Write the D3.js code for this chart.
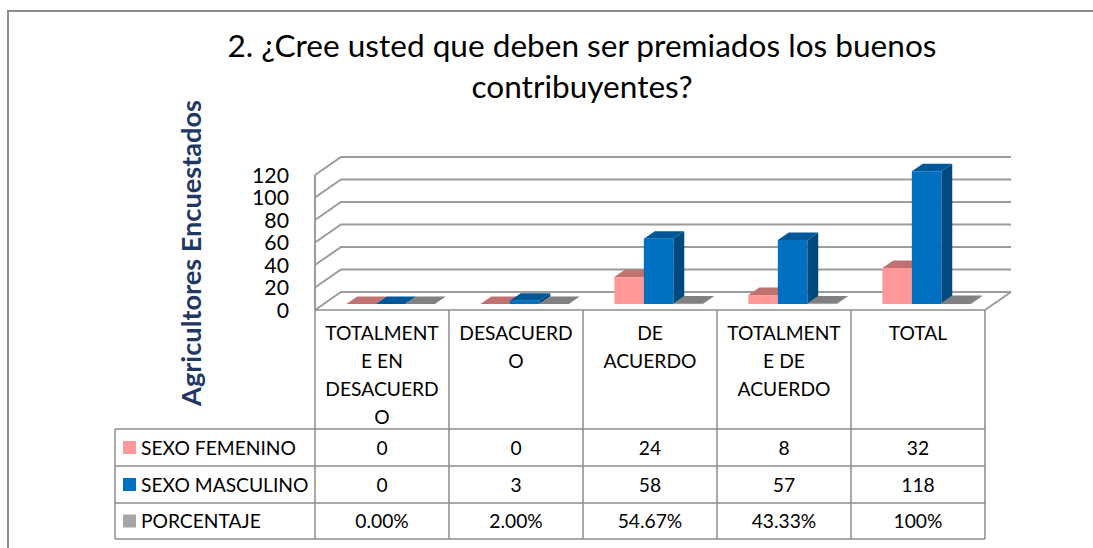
<!DOCTYPE html>
<html>
<head>
<meta charset="utf-8">
<script src="https://cdn.jsdelivr.net/npm/d3@7"></script>
<style>
  body { margin: 0; background: #fff; }
  text { font-family: Lato, "Open Sans", sans-serif; }
</style>
</head>
<body>
<svg id="chart" width="1093" height="548"></svg>
<script>
// datos
var categorias = ["TOTALMENTE EN DESACUERDO", "DESACUERDO", "DE ACUERDO", "TOTALMENTE DE ACUERDO", "TOTAL"];
var categoriaLineas = [["TOTALMENT", "E EN", "DESACUERD", "O"], ["DESACUERD", "O"], ["DE", "ACUERDO"], ["TOTALMENT", "E DE", "ACUERDO"], ["TOTAL"]];
var series = ["SEXO FEMENINO", "SEXO MASCULINO", "PORCENTAJE"];
var femenino = [0, 0, 24, 8, 32];
var masculino = [0, 3, 58, 57, 118];
var porcentaje = [0, 0.02, 0.5467, 0.4333, 1];
var porcentajeEtiquetas = ["0.00%", "2.00%", "54.67%", "43.33%", "100%"];
var yTicks = [0, 20, 40, 60, 80, 100, 120];
var titulo = ["2. ¿Cree usted que deben ser premiados los buenos", "contribuyentes?"];
var tituloEje = "Agricultores Encuestados";

var colores = {
  "SEXO FEMENINO": {front: "#FF9999", top: "#C27171", side: "#C27171", key: "#FF9999"},
  "SEXO MASCULINO": {front: "#0070C0", top: "#00589A", side: "#00497F", key: "#0070C0"},
  "PORCENTAJE": {front: "#7F7F7F", top: "#808080", side: "#6A6A6A", key: "#A5A5A5"}
};

var svg = d3.select("#chart");

// tamaño de letra para que el texto mida lo que mide en la imagen
function fitSize(str, weight, target) {
  var t = svg.append("text")
    .attr("font-size", 100)
    .attr("font-weight", weight)
    .text(str);
  var len = t.node().getComputedTextLength();
  t.remove();
  return 100 * target / len;
}

var sizeTitulo = fitSize(titulo[0], "normal", 709);
var sizeTick = fitSize("120", "normal", 37);
var sizeEje = fitSize(tituloEje, "bold", 306);
var sizeTabla = fitSize("SEXO FEMENINO", "normal", 155);

// marco del grafico
svg.append("path")
  .attr("d", "M8,548 L8,11 L1093,11")
  .attr("fill", "none")
  .attr("stroke", "#8C8C8C")
  .attr("stroke-width", 2);

// titulo
svg.append("g").selectAll("text")
  .data(titulo)
  .enter()
  .append("text")
    .attr("x", 582)
    .attr("y", function(d, i) { return 57 + i * 41; })
    .attr("text-anchor", "middle")
    .attr("font-size", sizeTitulo)
    .attr("fill", "#000")
    .text(function(d) { return d; });

// escalas
var depthX = 26, depthY = -18;
var x = d3.scaleBand().domain(categorias).range([315, 985]);
var xs = d3.scaleBand().domain(series)
  .range([x.bandwidth() * 0.17, x.bandwidth() * 0.83]);
var y = d3.scaleLinear().domain([0, 120]).range([310, 175]);

function px(xv, d) { return xv + depthX * d; }
function py(yv, d) { return yv + depthY * d; }

// paredes y lineas de division
var grid = svg.append("g")
  .attr("fill", "none")
  .attr("stroke", "#9C9C9C")
  .attr("stroke-width", 2);

grid.selectAll("path.grid")
  .data(yTicks)
  .enter()
  .append("path")
    .attr("class", "grid")
    .attr("d", function(d) {
      return "M" + x.range()[0] + "," + y(d) +
        " L" + px(x.range()[0], 1) + "," + py(y(d), 1) +
        " L" + px(x.range()[1], 1) + "," + py(y(d), 1);
    });

grid.append("path")
  .attr("d", "M" + x.range()[0] + "," + y(0) + " L" + x.range()[0] + "," + y(120));

grid.append("path")
  .attr("d", "M" + x.range()[1] + "," + y(0) + " L" + px(x.range()[1], 1) + "," + py(y(0), 1));

// etiquetas eje y
svg.append("g").selectAll("text")
  .data(yTicks)
  .enter()
  .append("text")
    .attr("x", 289)
    .attr("y", function(d) { return y(d) + sizeTick * 0.36; })
    .attr("text-anchor", "end")
    .attr("font-size", sizeTick)
    .attr("fill", "#000")
    .text(function(d) { return d; });

// titulo eje y
svg.append("text")
  .attr("transform", "translate(201,253) rotate(-90)")
  .attr("text-anchor", "middle")
  .attr("font-size", sizeEje)
  .attr("font-weight", "bold")
  .attr("fill", "#1F3864")
  .text(tituloEje);

// barras 3D
var d0 = 0.33, d1 = 0.75;
var valores = [femenino, masculino, porcentaje];
var barras = [];
categorias.forEach(function(c, i) {
  series.forEach(function(s, j) {
    barras.push({cat: c, serie: s, value: valores[j][i]});
  });
});

var bar = svg.append("g").selectAll("g")
  .data(barras)
  .enter()
  .append("g");

function pts(list) {
  return list.map(function(p) { return p[0] + "," + p[1]; }).join(" ");
}

bar.append("polygon")
  .attr("fill", function(d) { return colores[d.serie].side; })
  .attr("points", function(d) {
    var xr = x(d.cat) + xs(d.serie) + xs.bandwidth();
    return pts([[px(xr, d0), py(y(0), d0)], [px(xr, d1), py(y(0), d1)],
      [px(xr, d1), py(y(d.value), d1)], [px(xr, d0), py(y(d.value), d0)]]);
  });

bar.append("polygon")
  .attr("fill", function(d) { return colores[d.serie].front; })
  .attr("points", function(d) {
    var xl = x(d.cat) + xs(d.serie), xr = xl + xs.bandwidth();
    return pts([[px(xl, d0), py(y(0), d0)], [px(xr, d0), py(y(0), d0)],
      [px(xr, d0), py(y(d.value), d0)], [px(xl, d0), py(y(d.value), d0)]]);
  });

bar.append("polygon")
  .attr("fill", function(d) { return colores[d.serie].top; })
  .attr("points", function(d) {
    var xl = x(d.cat) + xs(d.serie), xr = xl + xs.bandwidth();
    var yt = y(d.value);
    return pts([[px(xl, d0), py(yt, d0)], [px(xr, d0), py(yt, d0)],
      [px(xr, d1), py(yt, d1)], [px(xl, d1), py(yt, d1)]]);
  });

// tabla de datos
var filas = [429, 466, 503, 539];
var tabla = svg.append("g")
  .attr("fill", "none")
  .attr("stroke", "#8C8C8C")
  .attr("stroke-width", 1.5);

tabla.append("path")
  .attr("d", "M" + x.range()[0] + ",310 L" + x.range()[1] + ",310");

tabla.selectAll("path.h")
  .data(filas)
  .enter()
  .append("path")
    .attr("class", "h")
    .attr("d", function(d) { return "M115," + d + " L" + x.range()[1] + "," + d; });

tabla.selectAll("path.v")
  .data(categorias.map(function(c) { return x(c); }).concat([x.range()[1]]))
  .enter()
  .append("path")
    .attr("class", "v")
    .attr("d", function(d) { return "M" + d + ",310 L" + d + "," + filas[3]; });

tabla.append("path")
  .attr("d", "M115," + filas[0] + " L115," + filas[3]);

// encabezados de categoria
var enc = svg.append("g").selectAll("text")
  .data(categorias)
  .enter()
  .append("text")
    .attr("text-anchor", "middle")
    .attr("font-size", sizeTabla)
    .attr("fill", "#000");

enc.selectAll("tspan")
  .data(function(d, i) { return categoriaLineas[i].map(function(l) { return {cat: d, line: l}; }); })
  .enter()
  .append("tspan")
    .attr("x", function(d) { return x(d.cat) + x.bandwidth() / 2; })
    .attr("y", function(d, i) { return 340 + i * 28; })
    .text(function(d) { return d.line; });

// filas de leyenda y valores
var textos = [femenino.map(String), masculino.map(String), porcentajeEtiquetas];
series.forEach(function(s, j) {
  var cy = (filas[j] + filas[j + 1]) / 2;
  svg.append("rect")
    .attr("x", 123)
    .attr("y", cy - 6.5)
    .attr("width", 13)
    .attr("height", 13)
    .attr("fill", colores[s].key);
  svg.append("text")
    .attr("x", 141)
    .attr("y", cy + 7)
    .attr("font-size", sizeTabla)
    .attr("fill", "#000")
    .text(s);
  svg.append("g").selectAll("text")
    .data(textos[j])
    .enter()
    .append("text")
      .attr("x", function(d, i) { return x(categorias[i]) + x.bandwidth() / 2; })
      .attr("y", cy + 7)
      .attr("text-anchor", "middle")
      .attr("font-size", sizeTabla)
      .attr("fill", "#000")
      .text(function(d) { return d; });
});
</script>
</body>
</html>
